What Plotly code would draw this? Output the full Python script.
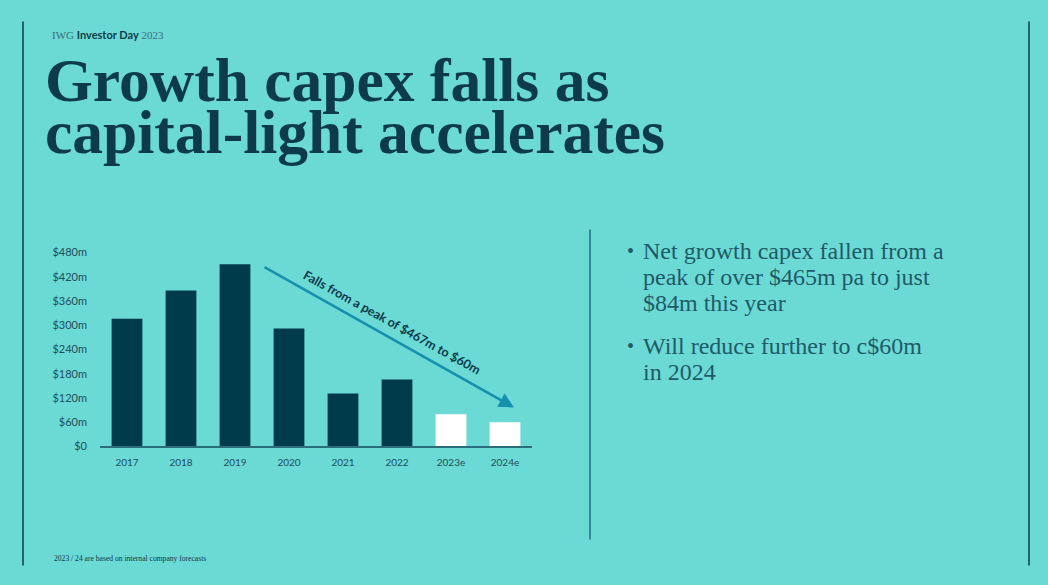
import plotly.graph_objects as go

W, H = 1048, 585

# ---- data ----
years = ["2017", "2018", "2019", "2020", "2021", "2022", "2023e", "2024e"]
capex_m = [316, 386, 451, 292, 131, 166, 80, 60]
tick_vals = [0, 60, 120, 180, 240, 300, 360, 420, 480]
tick_text = ["$0", "$60m", "$120m", "$180m", "$240m", "$300m", "$360m", "$420m", "$480m"]
title_lines = ["Growth capex falls as", "capital-light accelerates"]
bullets = [
    ["Net growth capex fallen from a", "peak of over $465m pa to just", "$84m this year"],
    ["Will reduce further to c$60m", "in 2024"],
]
arrow_label = "Falls from a peak of $467m to $60m"
footnote = "2023 / 24 are based on internal company forecasts"

BG = "#6bd9d4"
DARK = "#003b4c"
TXT = "#0d3b4a"
ARROW = "#1590ae"

# layout helpers: pixel position -> paper fraction (with slight vertical calibration)
VC, VS = 293.0, 0.978

def px(x):
    return x / W

def ypix(y):
    return VC + (y - VC) / VS

def py(y):
    return 1 - ypix(y) / H

colors = ["#ffffff" if y.endswith("e") else DARK for y in years]

fig = go.Figure()
fig.add_trace(go.Bar(x=years, y=capex_m, marker=dict(color=colors, line=dict(width=0)),
                     hoverinfo="skip"))

fig.update_layout(
    width=W, height=H,
    margin=dict(l=0, r=0, t=0, b=0),
    paper_bgcolor=BG, plot_bgcolor=BG,
    showlegend=False,
    bargap=0.43,
    xaxis=dict(domain=[px(100), px(532)], showgrid=False, zeroline=False,
               showline=True, linecolor="#2a6e7c", linewidth=2,
               tickfont=dict(family="Lato", size=10, color="#1e4e5c"),
               ticks="", ticklabelstandoff=6, fixedrange=True),
    yaxis=dict(domain=[py(446), py(252)], range=[0, 480], showgrid=False, zeroline=False,
               tickvals=tick_vals, ticktext=tick_text, ticks="",
               tickfont=dict(family="Lato", size=11, color="#1e4e5c"),
               ticklabelstandoff=12, fixedrange=True),
)

shapes = []
for x0 in (23, 1029):
    shapes.append(dict(type="line", xref="paper", yref="paper", x0=px(x0), x1=px(x0),
                       y0=py(21), y1=py(565), line=dict(color="#0d3b4a", width=1.5)))
shapes.append(dict(type="line", xref="paper", yref="paper", x0=px(590), x1=px(590),
                   y0=py(229), y1=py(539), line=dict(color="#1d6e7e", width=1.5)))
fig.update_layout(shapes=shapes)

ann = []
# header
ann.append(dict(xref="paper", yref="paper", x=px(50), y=py(33.5), xanchor="left", yanchor="middle",
                showarrow=False,
                text="<span style='font-family:Liberation Serif;color:#3d6f78'>IWG</span> "
                     "<span style='font-family:Lato;color:#0d3b4a'><b>Investor Day</b></span> "
                     "<span style='font-family:Liberation Serif;color:#3d6f78'>2023</span>",
                font=dict(size=11, family="Liberation Serif", color="#3d6f78")))
# title
for i, line in enumerate(title_lines):
    ann.append(dict(xref="paper", yref="paper", x=px(43), y=py(115 + i * 52), xanchor="left",
                    yanchor="bottom", showarrow=False, text="<b>" + line + "</b>",
                    font=dict(family="Liberation Serif", size=61.5, color=TXT)))
# arrow (tail offset in pixels from head)
hx, hy, tx, ty = 514, 407, 263, 269
ann.append(dict(xref="paper", yref="paper", axref="pixel", ayref="pixel",
                x=px(hx), y=py(hy), ax=tx - hx, ay=ypix(ty) - ypix(hy),
                showarrow=True, arrowhead=2, arrowsize=1.2, arrowwidth=2.5,
                arrowcolor=ARROW, text=""))
ann.append(dict(xref="paper", yref="paper", x=px(392), y=py(322), xanchor="center", yanchor="middle",
                showarrow=False, text="<b>" + arrow_label + "</b>", textangle=29,
                font=dict(family="Lato", size=12.5, color=TXT)))
# bullets
line_h = 26
y0s = [251, 346]
for b, y0 in zip(bullets, y0s):
    ann.append(dict(xref="paper", yref="paper", x=px(625), y=py(y0), xanchor="left",
                    yanchor="middle", showarrow=False, text="•",
                    font=dict(family="Liberation Serif", size=20, color="#1f5a68")))
    for j, line in enumerate(b):
        ann.append(dict(xref="paper", yref="paper", x=px(641), y=py(y0 + j * line_h),
                        xanchor="left", yanchor="middle", showarrow=False, text=line,
                        font=dict(family="Liberation Serif", size=24, color="#1f5a68")))
# footnote
ann.append(dict(xref="paper", yref="paper", x=px(52), y=py(558), xanchor="left", yanchor="middle",
                showarrow=False, text=footnote,
                font=dict(family="Liberation Serif", size=7.6, color="#0d3b4a")))
fig.update_layout(annotations=ann)

fig.write_html("out.html", config={"displayModeBar": False},
               post_script="document.documentElement.style.overflow='hidden';"
                           "document.body.style.margin='0';document.body.style.overflow='hidden';")
